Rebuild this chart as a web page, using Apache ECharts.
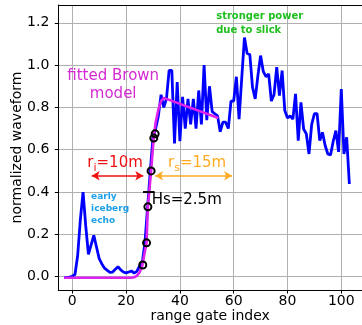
<!DOCTYPE html>
<html><head><meta charset="utf-8">
<script src="https://cdn.jsdelivr.net/npm/echarts@6/dist/echarts.min.js"></script>
<style>html,body{margin:0;padding:0;background:#fff}#c{width:362px;height:325px}</style>
</head><body><div id="c"></div>
<script>
// ---- data ----
var gates = [-3,-2,-1,0,1,2,3,4,5,6,7,8,9,10,11,12,13,14,15,16,17,18,19,20,21,22,23,24,25,26,27,28,29,30,
  31,32,33,34,35,36,37,38,39,40,41,42,43,44,45,46,47,48,49,50,51,52,53,54,55,56,57,58,59,60,
  61,62,63,64,65,66,67,68,69,70,71,72,73,74,75,76,77,78,79,80,81,82,83,84,85,86,87,88,89,90,
  91,92,93,94,95,96,97,98,99,100,101,102,103];
var waveform = [-0.005,-0.004,-0.002,0.002,0.01,0.10,0.27,0.40,0.24,0.105,0.15,0.195,0.14,0.085,0.06,0.04,0.03,0.02,0.022,0.035,0.047,0.032,0.022,0.018,0.022,0.027,0.017,0.025,0.05,0.065,0.16,0.33,0.50,0.66,
  0.70,0.76,0.86,0.80,0.84,0.975,0.975,0.63,0.92,0.64,0.85,0.70,0.84,0.72,0.84,0.70,0.88,0.72,1.00,0.74,0.90,0.78,0.77,0.76,0.685,0.73,0.73,0.70,0.83,0.83,
  0.945,0.745,0.94,1.13,1.055,1.05,0.895,0.84,0.95,1.045,0.97,0.945,0.958,0.83,0.86,0.99,0.856,0.974,0.785,0.75,0.76,0.745,0.864,0.643,0.824,0.698,0.675,0.58,0.72,0.77,
  0.77,0.643,0.682,0.62,0.58,0.575,0.64,0.69,0.59,0.887,0.58,0.659,0.438];
var modelX = [-3,22,23,24,25,26,27,27.6,28.1,29.3,30.3,31,32,33,34,54.3];
var modelY = [-0.005,-0.005,-0.003,0.004,0.02,0.05,0.12,0.16,0.33,0.50,0.66,0.73,0.79,0.83,0.845,0.75];
var markX = [26.2,27.6,28.1,29.3,30.3,30.8];
var markY = [0.055,0.16,0.33,0.50,0.655,0.675];
var xTicks = [0,20,40,60,80,100];
var yTicks = [0,0.2,0.4,0.6,0.8,1.0,1.2];
var riRange = [7.2, 26.4];
var rsRange = [30.8, 59.4];
var arrowLevel = 0.477;
var hsCap = [26.3, 30.6];
var hsLevel = 0.4;

function pairs(xs, ys){ return xs.map(function(x,i){ return [x, ys[i]]; }); }

var FONT = 'DejaVu Sans';
var chart = echarts.init(document.getElementById('c'), null, {renderer:'canvas'});

function textPoint(x, y, formatter, style){
  return {
    type:'scatter', symbolSize:0, silent:true, z:10,
    itemStyle:{color:'rgba(0,0,0,0)', opacity:1},
    emphasis:{disabled:true},
    data:[[x,y]],
    label: Object.assign({show:true, position:'inside', formatter:formatter, fontFamily:FONT,
      opacity:1, textBorderWidth:0, textBorderColor:'transparent'}, style)
  };
}

var option = {
  animation:false,
  grid:{left:58.3, top:5, right:0, bottom:35, containLabel:false, outerBoundsMode:'none'},
  xAxis:[{
    type:'value', min:-5.2, max:107.7,
    name:'range gate index', nameLocation:'middle', nameGap:19.5, nameMoveOverlap:false,
    nameTextStyle:{fontFamily:FONT, fontSize:14, color:'#000'},
    axisLine:{show:true, onZero:false, lineStyle:{color:'#000', width:1}},
    axisTick:{show:true, length:3.5, customValues:xTicks, lineStyle:{color:'#000', width:1}},
    axisLabel:{customValues:xTicks, fontFamily:FONT, fontSize:14, color:'#000', margin:4},
    splitLine:{show:true, lineStyle:{color:'#b0b0b0', width:1}}
  },{
    type:'value', position:'top', min:-5.2, max:107.7,
    axisLine:{show:true, onZero:false, lineStyle:{color:'#000', width:1}},
    axisTick:{show:false}, axisLabel:{show:false}, splitLine:{show:false}
  }],
  yAxis:{
    type:'value', min:-0.063, max:1.284,
    name:'normalized waveform', nameLocation:'middle', nameGap:34, nameMoveOverlap:false,
    nameTextStyle:{fontFamily:FONT, fontSize:14, color:'#000'},
    axisLine:{show:true, onZero:false, lineStyle:{color:'#000', width:1}},
    axisTick:{show:true, length:3.5, customValues:yTicks, lineStyle:{color:'#000', width:1}},
    axisLabel:{customValues:yTicks, fontFamily:FONT, fontSize:14, color:'#000', margin:9,
      formatter:function(v){ return v.toFixed(1); }},
    splitLine:{show:true, lineStyle:{color:'#b0b0b0', width:1}}
  },
  series:[
    {type:'line', data:pairs(gates, waveform), showSymbol:false, symbol:'none',
     lineStyle:{color:'#0000ff', width:2.8}, z:3},
    {type:'line', data:pairs(modelX, modelY), showSymbol:false, symbol:'none',
     lineStyle:{color:'#dd22ee', width:2.6}, z:4},
    {type:'scatter', data:pairs(markX, markY), symbol:'circle', symbolSize:7, z:5,
     itemStyle:{color:'rgba(0,0,0,0)', borderColor:'#000', borderWidth:2, opacity:1}},
    {type:'line', data:pairs(hsCap, [hsLevel, hsLevel]), showSymbol:false, symbol:'none',
     lineStyle:{color:'#000', width:2}, z:6},
    {type:'line', data:[], z:6,
     markLine:{silent:true, symbol:['arrow','arrow'], symbolSize:[7,8],
       label:{show:false},
       data:[
         [{coord:[riRange[0], arrowLevel], lineStyle:{color:'#ee1111', width:1.6, type:'solid'}}, {coord:[riRange[1], arrowLevel]}],
         [{coord:[rsRange[0], arrowLevel], lineStyle:{color:'#ffaa22', width:1.6, type:'solid'}}, {coord:[rsRange[1], arrowLevel]}]
       ]}},
    textPoint(15.2, 0.905, 'fitted Brown\nmodel', {fontSize:15, color:'#d42ad4', lineHeight:18, align:'center', verticalAlign:'middle'}),
    textPoint(53.5, 1.198, 'stronger power\ndue to slick', {fontSize:10, fontWeight:'bold', color:'#1fbf1f', lineHeight:14, align:'left', verticalAlign:'middle'}),
    textPoint(7.0, 0.32, 'early\niceberg\necho', {fontSize:9, fontWeight:'bold', color:'#1a9fe8', lineHeight:12, align:'left', verticalAlign:'middle'}),
    textPoint(15.9, 0.536, '{a|r}{b|i}{a|=10m}', {align:'center', verticalAlign:'middle', rich:{
      a:{fontFamily:FONT, fontSize:15, color:'#ee1111', lineHeight:18},
      b:{fontFamily:FONT, fontSize:11, color:'#ee1111', lineHeight:18, padding:[9,0,0,0]}}}),
    textPoint(46.4, 0.536, '{a|r}{b|s}{a|=15m}', {align:'center', verticalAlign:'middle', rich:{
      a:{fontFamily:FONT, fontSize:15, color:'#ffaa22', lineHeight:18},
      b:{fontFamily:FONT, fontSize:11, color:'#ffaa22', lineHeight:18, padding:[9,0,0,0]}}}),
    textPoint(29.5, 0.362, 'Hs=2.5m', {fontSize:15, color:'#000', align:'left', verticalAlign:'middle'})
  ]
};
chart.setOption(option);
</script></body></html>
